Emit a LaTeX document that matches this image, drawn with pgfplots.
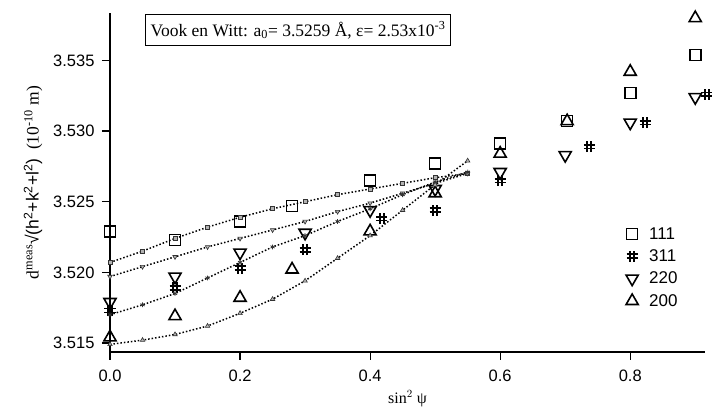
\documentclass[border=0pt]{standalone}
\usepackage{pgfplots}
\pgfplotsset{compat=1.18}
\usepackage{fontspec}
\setmainfont{Liberation Serif}
\newfontfamily\hel{Liberation Sans}
\pgfdeclareplotmark{hash}{%
  \pgfpathmoveto{\pgfpoint{-0.35\pgfplotmarksize}{-\pgfplotmarksize}}%
  \pgfpathlineto{\pgfpoint{-0.35\pgfplotmarksize}{\pgfplotmarksize}}%
  \pgfpathmoveto{\pgfpoint{0.35\pgfplotmarksize}{-\pgfplotmarksize}}%
  \pgfpathlineto{\pgfpoint{0.35\pgfplotmarksize}{\pgfplotmarksize}}%
  \pgfpathmoveto{\pgfpoint{-\pgfplotmarksize}{-0.35\pgfplotmarksize}}%
  \pgfpathlineto{\pgfpoint{\pgfplotmarksize}{-0.35\pgfplotmarksize}}%
  \pgfpathmoveto{\pgfpoint{-\pgfplotmarksize}{0.35\pgfplotmarksize}}%
  \pgfpathlineto{\pgfpoint{\pgfplotmarksize}{0.35\pgfplotmarksize}}%
  \pgfusepathqstroke}
\begin{document}
\begin{tikzpicture}
\begin{axis}[
  scale only axis, width=595pt, height=339pt,
  xmin=0, xmax=0.915, ymin=3.51436, ymax=3.53836,
  axis x line*=bottom, axis y line*=left,
  axis line style={line width=1.5pt},
  tick align=outside, major tick length=8pt,
  tick style={line width=1.2pt, black},
  xtick={0,0.2,0.4,0.6,0.8},
  ytick={3.515,3.520,3.525,3.530,3.535},
  minor tick num=0,
  xticklabel style={yshift=-6pt, /pgf/number format/.cd, fixed, fixed zerofill, precision=1},
  yticklabel style={xshift=-4pt, /pgf/number format/.cd, fixed, fixed zerofill, precision=3},
  /pgf/number format/assume math mode=true,
  tick label style={font=\hel\fontsize{16.5}{16.5}\selectfont},
  xlabel={sin$^{2}$ ψ},
  xlabel style={font=\fontsize{16}{16}\selectfont, yshift=-2pt},
  ylabel={d\textsuperscript{meas}{\hel√(h\textsuperscript{2}+k\textsuperscript{2}+l\textsuperscript{2})}\ \ (10\textsuperscript{-10} m)},
  ylabel style={font=\fontsize{17.5}{17.5}\selectfont, yshift=4pt},
  legend style={draw=none, fill=none, at={(rel axis cs:0.862,0.38)}, anchor=north west,
    font=\hel\fontsize{17}{17}\selectfont, row sep=5pt, nodes={inner xsep=11pt}},
  legend cell align=left,
  clip=false,
]
% measured
\addplot[only marks, mark=square, mark size=5.5pt, mark options={line width=1.6pt}]
coordinates {(0,3.5229)(0.1,3.5223)(0.2,3.5236)(0.28,3.5247)(0.4,3.5265)(0.5,3.5277)(0.6,3.5291)(0.703,3.5307)(0.8,3.5327)(0.9,3.5354)};
\addlegendentry{111}
\addplot[only marks, mark=hash, mark size=5.5pt, mark options={line width=1.8pt}]
coordinates {(0,3.5173)(0.1,3.5189)(0.2,3.5203)(0.3,3.5216)(0.418,3.5238)(0.5,3.5244)(0.6,3.5265)(0.737,3.5289)(0.823,3.5306)(0.918,3.5326)};
\addlegendentry{311}
\addplot[only marks, mark=triangle, mark size=7pt, mark options={line width=1.6pt, rotate=180}]
coordinates {(0,3.5179)(0.1,3.5197)(0.2,3.5214)(0.3,3.5228)(0.4,3.5244)(0.5,3.5259)(0.6,3.5271)(0.7,3.5283)(0.8,3.5306)(0.9,3.5324)};
\addlegendentry{220}
\addplot[only marks, mark=triangle, mark size=7pt, mark options={line width=1.6pt}]
coordinates {(0,3.5154)(0.1,3.5169)(0.2,3.5182)(0.28,3.5202)(0.4,3.5229)(0.5,3.5256)(0.6,3.5284)(0.703,3.5307)(0.8,3.5342)(0.9,3.5380)};
\addlegendentry{200}
% fits
\addplot[forget plot, dotted, line width=1.5pt, mark=square*, mark size=2pt, mark options={solid, fill=gray!60, draw=black!80, line width=0.6pt}]
coordinates {(0,3.5207)(0.05,3.5215)(0.1,3.5224)(0.15,3.5232)(0.2,3.5239)(0.25,3.5245)(0.3,3.5250)(0.35,3.5255)(0.4,3.5259)(0.45,3.5263)(0.5,3.5267)(0.55,3.5270)};
\addplot[forget plot, dotted, line width=1.5pt, mark=triangle*, mark size=2.6pt, mark options={solid, rotate=180, fill=gray!60, draw=black!80, line width=0.6pt}]
coordinates {(0,3.5197)(0.05,3.5204)(0.1,3.5211)(0.15,3.5218)(0.2,3.5224)(0.25,3.5230)(0.3,3.5236)(0.35,3.5243)(0.4,3.5249)(0.45,3.5256)(0.5,3.5263)(0.55,3.5270)};
\addplot[forget plot, dotted, line width=1.5pt, mark=asterisk, mark size=2.4pt, mark options={solid, draw=black!80, line width=0.8pt}]
coordinates {(0,3.5170)(0.05,3.5177)(0.1,3.5185)(0.15,3.5196)(0.2,3.5207)(0.25,3.5218)(0.3,3.5226)(0.35,3.5236)(0.4,3.5245)(0.45,3.5255)(0.5,3.5264)(0.55,3.5271)};
\addplot[forget plot, dotted, line width=1.5pt, mark=triangle*, mark size=2.6pt, mark options={solid, fill=gray!60, draw=black!80, line width=0.6pt}]
coordinates {(0,3.5149)(0.05,3.5152)(0.1,3.5156)(0.15,3.5162)(0.2,3.5171)(0.25,3.5181)(0.3,3.5194)(0.35,3.5210)(0.4,3.5226)(0.45,3.5244)(0.5,3.5262)(0.55,3.5279)};
\node[draw, line width=1.2pt, fill=white, anchor=north west, inner xsep=5pt, inner ysep=7pt, font=\fontsize{17.5}{17.5}\selectfont]
  at (rel axis cs:0.059,0.997) {Vook en Witt: a\textsubscript{0}= 3.5259 Å, ε= 2.53x10\textsuperscript{-3}};
\coordinate (LL) at (rel axis cs:0,0);
\coordinate (UR) at (rel axis cs:1,1);
\end{axis}
\pgfresetboundingbox
\path ([shift={(-110pt,-58pt)}]LL) rectangle ([shift={(8pt,13pt)}]UR);
\end{tikzpicture}
\end{document}
